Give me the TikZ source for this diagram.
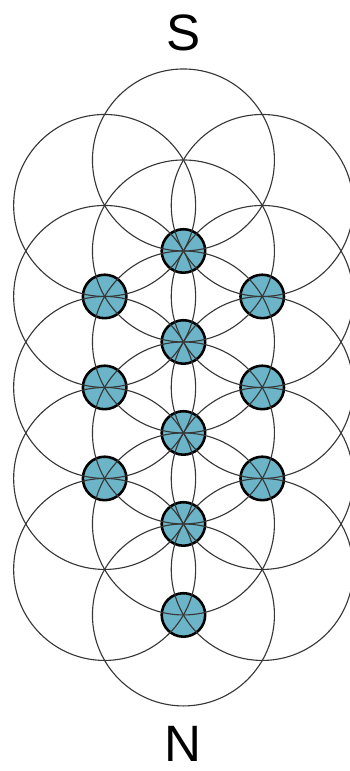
\documentclass[tikz,border=0pt]{standalone}
\usepackage{fontspec}
\setmainfont{Liberation Sans}
\usepackage{xcolor}
\definecolor{sephirablue}{RGB}{108, 180, 199}
\definecolor{ringgray}{RGB}{55, 55, 55}
\usetikzlibrary{positioning}

\begin{document}
\begin{tikzpicture}[
    sephira/.style={circle, draw=black, line width=0.8pt, fill=sephirablue, inner sep=0pt, minimum size=0.478cm},
    ring/.style={ringgray, line width=0.35pt},
    pole/.style={font=\fontsize{16}{16}\selectfont, inner sep=0pt}]
    \useasboundingbox (0,0) rectangle (3.846,-8.473);
    \node[pole] (S) at (2.016,-0.357) {S};
    \node[pole] (N) at (2.016,-8.17) {N};
    % centre column
    \coordinate (T) at (2.016,-1.758);
    \node[sephira] (c1) at (2.016,-2.758) {};
    \node[sephira] (c2) at (2.016,-3.758) {};
    \node[sephira] (c3) at (2.016,-4.758) {};
    \node[sephira] (c4) at (2.016,-5.758) {};
    \node[sephira] (c5) at (2.016,-6.758) {};
    % left column
    \coordinate (l0) at (1.150,-2.258);
    \node[sephira] (l1) at (1.150,-3.258) {};
    \node[sephira] (l2) at (1.150,-4.258) {};
    \node[sephira] (l3) at (1.150,-5.258) {};
    \coordinate (l4) at (1.150,-6.258);
    % right column
    \coordinate (r0) at (2.882,-2.258);
    \node[sephira] (r1) at (2.882,-3.258) {};
    \node[sephira] (r2) at (2.882,-4.258) {};
    \node[sephira] (r3) at (2.882,-5.258) {};
    \coordinate (r4) at (2.882,-6.258);
    % rings
    \foreach \p in {T,c1,c2,c3,c4,c5,l0,l1,l2,l3,l4,r0,r1,r2,r3,r4}
        \draw[ring] (\p) circle (1);
\end{tikzpicture}
\end{document}
